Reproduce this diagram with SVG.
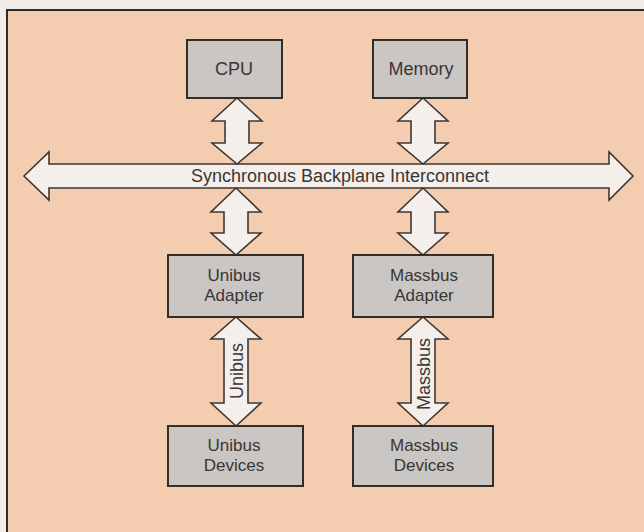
<svg xmlns="http://www.w3.org/2000/svg" width="644" height="532" viewBox="0 0 644 532">
<style>
.frame{fill:#f4cdb0;stroke:#2e2a28;stroke-width:2}
.box{fill:#c9c6c3;stroke:#332d2a;stroke-width:2}
.arr{fill:#f4efea;stroke:#3f3632;stroke-width:1.6;stroke-linejoin:miter}
.t{font-family:"Liberation Sans",Arial,sans-serif;font-size:18px;fill:#3a3634;text-anchor:middle}
.n{font-size:17px}
</style>
<rect x="0" y="0" width="644" height="532" fill="#f1eee9"/>
<rect class="frame" x="7" y="10" width="650" height="540"/>
<g id="connectors">
<g id="sbi">
<path class="arr" d="M24,176 L49,152 L49,164 L609,164 L609,152 L633,176 L609,200 L609,188 L49,188 L49,200 Z"/>
<text class="t" x="340" y="182">Synchronous Backplane Interconnect</text>
</g>
<path id="cpu-sbi" class="arr" d="M237,98 L262,121 L249,121 L249,143 L262,143 L237,164 L212,143 L225,143 L225,121 L212,121 Z"/>
<path id="mem-sbi" class="arr" d="M423,98 L448,121 L435,121 L435,143 L448,143 L423,164 L398,143 L411,143 L411,121 L398,121 Z"/>
<path id="sbi-uba" class="arr" d="M236,188 L261,212 L248,212 L248,233 L261,233 L236,255 L211,233 L224,233 L224,212 L211,212 Z"/>
<path id="sbi-mba" class="arr" d="M423,188 L448,212 L435,212 L435,233 L448,233 L423,255 L398,233 L411,233 L411,212 L398,212 Z"/>
<g id="unibus">
<path class="arr" d="M236,317 L261,339 L248,339 L248,403 L261,403 L236,426 L211,403 L224,403 L224,339 L211,339 Z"/>
<text class="t" transform="translate(243,371) rotate(-90)">Unibus</text>
</g>
<g id="massbus">
<path class="arr" d="M423,317 L448,339 L435,339 L435,403 L448,403 L423,426 L398,403 L411,403 L411,339 L398,339 Z"/>
<text class="t" transform="translate(430,374) rotate(-90)">Massbus</text>
</g>
</g>
<g id="cpu">
<rect class="box" x="187" y="40" width="95" height="58"/>
<text class="t" x="234" y="75">CPU</text>
</g>
<g id="memory">
<rect class="box" x="373" y="40" width="94" height="58"/>
<text class="t" x="421" y="75">Memory</text>
</g>
<g id="unibus-adapter">
<rect class="box" x="168" y="255" width="135" height="62"/>
<text class="t n" x="234" y="281">Unibus</text>
<text class="t n" x="234" y="301">Adapter</text>
</g>
<g id="massbus-adapter">
<rect class="box" x="353" y="255" width="140" height="62"/>
<text class="t n" x="424" y="281">Massbus</text>
<text class="t n" x="424" y="301">Adapter</text>
</g>
<g id="unibus-devices">
<rect class="box" x="168" y="426" width="135" height="60"/>
<text class="t n" x="234" y="451">Unibus</text>
<text class="t n" x="234" y="471">Devices</text>
</g>
<g id="massbus-devices">
<rect class="box" x="353" y="426" width="140" height="60"/>
<text class="t n" x="424" y="451">Massbus</text>
<text class="t n" x="424" y="471">Devices</text>
</g>
</svg>
